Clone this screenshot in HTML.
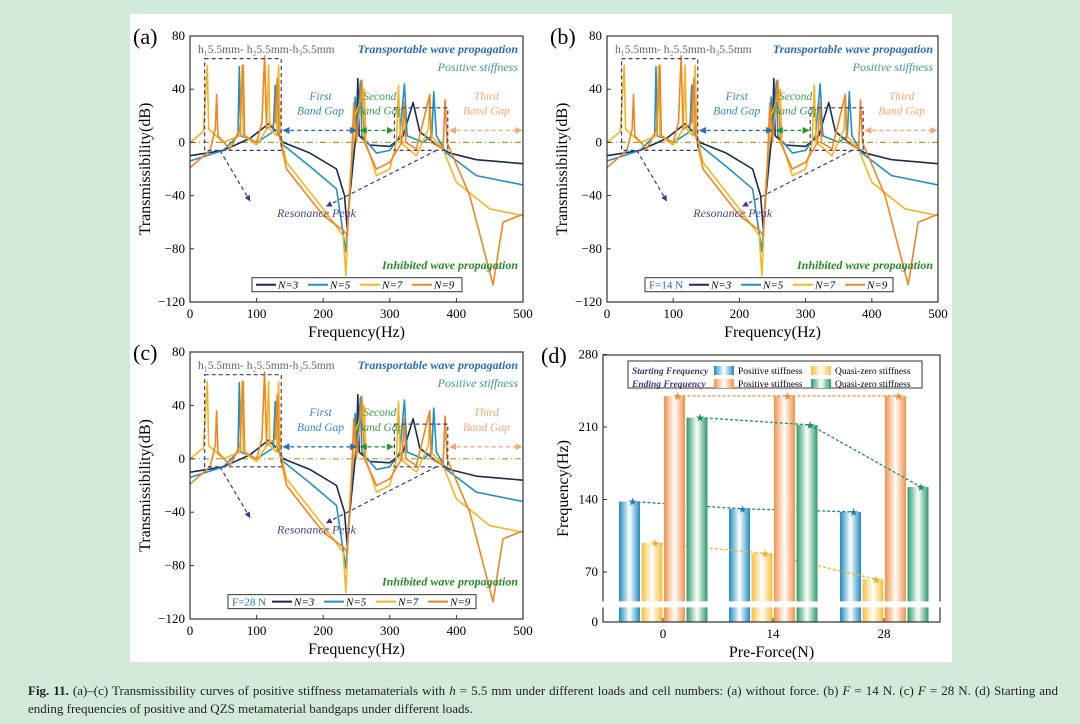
<!DOCTYPE html>
<html><head><meta charset="utf-8"><style>
body{margin:0;background:#d3eadb;width:1080px;height:724px;overflow:hidden;font-family:"Liberation Serif",serif}
svg text{font-family:"Liberation Serif",serif}
#cap{position:absolute;left:28px;top:682px;width:1030px;font-size:13px;line-height:18px;color:#222;text-align:justify}
</style></head><body>
<svg id="s" width="1080" height="724" style="position:absolute;left:0;top:0">
<defs>
<linearGradient id="gB"><stop offset="0" stop-color="#1f8cc0"/><stop offset=".5" stop-color="#fff"/><stop offset="1" stop-color="#1f8cc0"/></linearGradient>
<linearGradient id="gY"><stop offset="0" stop-color="#f7bf3a"/><stop offset=".5" stop-color="#fff"/><stop offset="1" stop-color="#f7bf3a"/></linearGradient>
<linearGradient id="gO"><stop offset="0" stop-color="#f2914a"/><stop offset=".5" stop-color="#fff"/><stop offset="1" stop-color="#f2914a"/></linearGradient>
<linearGradient id="gG"><stop offset="0" stop-color="#2a9a6a"/><stop offset=".5" stop-color="#fff"/><stop offset="1" stop-color="#2a9a6a"/></linearGradient>
<marker id="ar" viewBox="0 0 10 10" refX="9" refY="5" markerWidth="5" markerHeight="5" orient="auto-start-reverse"><path d="M0,0L10,5L0,10z" fill="context-stroke"/></marker>
</defs>
<rect x="130" y="14" width="822" height="648" fill="#fff"/>
</svg>
<div id="cap"><b>Fig. 11.</b> (a)–(c) Transmissibility curves of positive stiffness metamaterials with <i>h</i> = 5.5 mm under different loads and cell numbers: (a) without force. (b) <i>F</i> = 14 N. (c) <i>F</i> = 28 N. (d) Starting and ending frequencies of positive and QZS metamaterial bandgaps under different loads.</div>
<script>
// ---- transmissibility data (freq Hz, dB) ----
const n3F=[0,50,90,118,130,140,180,220,232,236,240,250,252,254,270,300,320,335,345,370,390,430,500];
const n3V=[-10,-6,3,14,8,0,-8,-20,-40,-65,-40,10,48,5,-2,-3,5,30,8,-2,-8,-13,-16];
const n5F=[0,50,72,74,76,100,125,128,131,140,180,220,234,238,245,248,250,256,258,280,300,315,322,326,350,363,366,370,385,430,500];
const n5V=[-14,-6,5,57,5,0,8,43,8,-2,-18,-35,-82,-50,0,34,5,46,5,-8,-6,5,44,5,0,5,38,5,-8,-25,-32];
const n7F=[0,20,26,28,50,75,78,80,100,115,118,120,130,133,136,145,200,230,234,240,248,262,264,280,300,310,313,316,340,358,360,362,380,400,450,500];
const n7V=[0,8,58,10,0,5,58,5,-2,10,58,10,5,58,5,-15,-50,-70,-100,-30,20,40,0,-25,-20,0,43,0,-10,10,36,5,-5,-30,-50,-55];
const n9F=[0,30,38,40,42,60,75,80,82,100,108,112,115,128,131,134,145,200,230,236,242,246,250,258,262,280,300,318,322,324,340,360,362,380,383,386,420,455,470,500];
const n9V=[-19,-6,10,36,5,-5,10,58,5,0,15,65,10,15,48,5,-20,-55,-66,-70,-20,30,0,47,0,-20,-15,0,30,0,-5,36,0,-5,32,0,-40,-107,-60,-54];
const xTicks=[0,100,200,300,400,500];
const yTicks=[-120,-80,-40,0,40,80];
// ---- bar chart data ----
const forces=["0","14","28"];
const startPos=[138,131,128];
const startQzs=[98,88,63];
const endPos=[240,240,240];
const endQzs=[219,212,152];
const dTicks=[0,70,140,210,280];

const NS="http://www.w3.org/2000/svg";
const svg=document.getElementById('s');
function el(t,a,p,txt){const e=document.createElementNS(NS,t);for(const k in a)e.setAttribute(k,a[k]);if(txt!==undefined)e.textContent=txt;(p||svg).appendChild(e);return e;}

function panel(id,X0,X1,Y0,Y1,lab,force){
  const g=el('g',{});
  
  
  const sx=f=>X0+(X1-X0)*f/500, sy=v=>Y0+(Y1-Y0)*(80-v)/200;
  const t=el('text',{x:X0-57,y:Y0+8,'font-size':22},g,lab);
  
  el('line',{x1:X0,x2:X1,y1:sy(0),y2:sy(0),stroke:'#9aa52a','stroke-width':1.2,'stroke-dasharray':'6 3 1 3'},g);
  const ser=[[n3F,n3V,'#1b2b4d','N=3'],[n5F,n5V,'#2191c4','N=5'],[n7F,n7V,'#f7b51e','N=7'],[n9F,n9V,'#ee8623','N=9']];
  ser.forEach(s=>{
    const pts=s[0].map((f,i)=>sx(f)+','+Math.min(Y1,sy(s[1][i]))).join(' ');
    const p=el('polyline',{points:pts,fill:'none',stroke:s[2],'stroke-width':1.6,'stroke-linejoin':'round'},g);
    
    
  });
  el('rect',{x:sx(22),y:sy(63),width:sx(137)-sx(22),height:sy(-6)-sy(63),fill:'none',stroke:'#3b3a7a','stroke-width':1.2,'stroke-dasharray':'4 3'},g);
  el('rect',{x:sx(307),y:sy(26),width:sx(387)-sx(307),height:sy(-6)-sy(26),fill:'none',stroke:'#3b3a7a','stroke-width':1.2,'stroke-dasharray':'4 3'},g);
  el('line',{x1:sx(45),y1:sy(-6),x2:sx(90),y2:sy(-44),stroke:'#3b3a7a','stroke-width':1.2,'stroke-dasharray':'4 3','marker-end':'url(#ar)'},g);
  el('line',{x1:sx(370),y1:sy(-6),x2:sx(205),y2:sy(-48),stroke:'#3b3a7a','stroke-width':1.2,'stroke-dasharray':'4 3','marker-end':'url(#ar)'},g);
  el('text',{x:sx(190),y:sy(-56),'font-size':12,'font-style':'italic',fill:'#4a4680','text-anchor':'middle'},g,'Resonance Peak');
  [[140,250,'#2a6db5'],[256,305,'#27962f'],[390,498,'#f3a77a']].forEach(a=>{
    el('line',{x1:sx(a[0]),x2:sx(a[1]),y1:sy(9),y2:sy(9),stroke:a[2],'stroke-width':1.4,'stroke-dasharray':'4 3','marker-end':'url(#ar)','marker-start':'url(#ar)'},g);
  });
  [['First','Band Gap',196,'#3a86b5'],['Second','Band Gap',285,'#3a9a50'],['Third','Band Gap',445,'#f0a878']].forEach(a=>{
    el('text',{x:sx(a[2]),y:sy(32),'font-size':11.5,'font-style':'italic',fill:a[3],'text-anchor':'middle'},g,a[0]);
    el('text',{x:sx(a[2]),y:sy(21),'font-size':11.5,'font-style':'italic',fill:a[3],'text-anchor':'middle'},g,a[1]);
  });
  el('text',{x:X0+8,y:Y0+17,'font-size':11.5,fill:'#666'},g,'h\u20815.5mm- h\u20825.5mm-h\u20835.5mm');
  el('text',{x:X1-5,y:Y0+17,'font-size':12,'font-style':'italic','font-weight':'bold',fill:'#2b6db3','text-anchor':'end'},g,'Transportable wave propagation');
  el('text',{x:X1-5,y:Y0+35,'font-size':12,'font-style':'italic',fill:'#3a9a8a','text-anchor':'end'},g,'Positive stiffness');
  el('text',{x:X1-5,y:sy(-95),'font-size':12,'font-style':'italic','font-weight':'bold',fill:'#2a8a2a','text-anchor':'end'},g,'Inhibited wave propagation');
  const ly=sy(-107), lx0=force?X0+38:X0+62;
  const lw=force?248:210;
  const lg=el('g',{},g);
  el('rect',{x:lx0,y:ly-7,width:lw,height:14,fill:'#fff',stroke:'#333','stroke-width':1},lg);
  let cx=lx0+4;
  if(force){el('text',{x:cx,y:ly+4,'font-size':11,fill:'#2b6db3'},lg,force);cx+=40;}
  ser.forEach(s=>{
    el('line',{x1:cx,x2:cx+20,y1:ly,y2:ly,stroke:s[2],'stroke-width':2},lg);
    el('text',{x:cx+22,y:ly+4,'font-size':11,'font-style':'italic'},lg,s[3]);
    cx+=52;
  });
  el('rect',{x:X0,y:Y0,width:X1-X0,height:Y1-Y0,fill:'none',stroke:'#333','stroke-width':1.2},g);
  xTicks.forEach(v=>{el('line',{x1:sx(v),x2:sx(v),y1:Y1,y2:Y1-4,stroke:'#333'},g);
    el('text',{x:sx(v),y:Y1+16,'font-size':13,'text-anchor':'middle'},g,v);});
  yTicks.forEach(v=>{el('line',{x1:X0,x2:X0+4,y1:sy(v),y2:sy(v),stroke:'#333'},g);
    el('text',{x:X0-5,y:sy(v)+4,'font-size':13,'text-anchor':'end'},g,v<0?'\u2212'+(-v):v);});
  el('text',{x:(X0+X1)/2,y:Y1+35,'font-size':16,'text-anchor':'middle'},g,'Frequency(Hz)');
  el('text',{x:0,y:0,'font-size':16,'text-anchor':'middle',transform:`translate(${X0-40},${(Y0+Y1)/2}) rotate(-90)`},g,'Transmissibility(dB)');
}
panel('a',190,523,36,302,'(a)',null);
panel('b',607,938,36,302,'(b)','F=14 N');
panel('c',190,523,352,619,'(c)','F=28 N');

(function(){
  const X0=603,X1=940,Y0=355,Y1=622;
  const g=el('g',{});
  const sy=v=>v>=50?572-(v-70)*1.036:622-v*(622-598)/50;
  const cxs=[663,773,884];
  el('text',{x:X0-62,y:Y0+8,'font-size':22},g,'(d)');
  const sets=[[startPos,'url(#gB)',-33.5,'#1f7fae'],[startQzs,'url(#gY)',-11,'#f0b020'],[endPos,'url(#gO)',11.5,'#f08a3a'],[endQzs,'url(#gG)',34,'#1f9060']];
  sets.forEach((s,si)=>{
    const pts=[];
    s[0].forEach((v,i)=>{
      const x=cxs[i]+s[2];
      const b=el('rect',{x:x-10.5,y:sy(v),width:21,height:Y1-sy(v),fill:s[1]},g);
      
      
      pts.push([x+3,sy(v)]);
    });
    el('polyline',{points:pts.map(p=>p.join(',')).join(' '),fill:'none',stroke:s[3],'stroke-width':1.3,'stroke-dasharray':'3 2'},g);
    pts.forEach(p=>el('text',{x:p[0],y:p[1]+4,'font-size':11,fill:s[3],'text-anchor':'middle'},g,'\u2605'));
  });
  el('rect',{x:X0,y:Y0,width:X1-X0,height:Y1-Y0,fill:'none',stroke:'#333','stroke-width':1.2},g);
  el('rect',{x:X0-3,y:sy(45)+1,width:X1-X0+6,height:6,fill:'#fff'},g);
  dTicks.forEach(v=>{el('line',{x1:X0,x2:X0+4,y1:sy(v),y2:sy(v),stroke:'#333'},g);
    el('text',{x:X0-5,y:sy(v)+4,'font-size':13,'text-anchor':'end'},g,v);});
  forces.forEach((f,i)=>{el('line',{x1:cxs[i],x2:cxs[i],y1:Y1,y2:Y1-4,stroke:'#333'},g);
    el('text',{x:cxs[i],y:Y1+16,'font-size':13,'text-anchor':'middle'},g,f);});
  el('text',{x:(X0+X1)/2,y:Y1+35,'font-size':16,'text-anchor':'middle'},g,'Pre-Force(N)');
  el('text',{x:0,y:0,'font-size':16,'text-anchor':'middle',transform:`translate(${X0-35},${(Y0+Y1)/2}) rotate(-90)`},g,'Frequency(Hz)');
  const lg=el('g',{},g);
  el('rect',{x:628,y:361,width:294,height:27,fill:'#fff',stroke:'#333'},lg);
  [['Starting Frequency','url(#gB)','url(#gY)',371],['Ending Frequency','url(#gO)','url(#gG)',384]].forEach(r=>{
    el('text',{x:632,y:r[3]+3,'font-size':9.5,'font-style':'italic','font-weight':'bold',fill:'#3a3a7a'},lg,r[0]);
    el('rect',{x:714,y:r[3]-5,width:20,height:9,fill:r[1]},lg);
    el('text',{x:738,y:r[3]+3,'font-size':9.5},lg,'Positive stiffness');
    el('rect',{x:811,y:r[3]-5,width:20,height:9,fill:r[2]},lg);
    el('text',{x:835,y:r[3]+3,'font-size':9.5},lg,'Quasi-zero stiffness');
  });
})();
</script>
</body></html>
